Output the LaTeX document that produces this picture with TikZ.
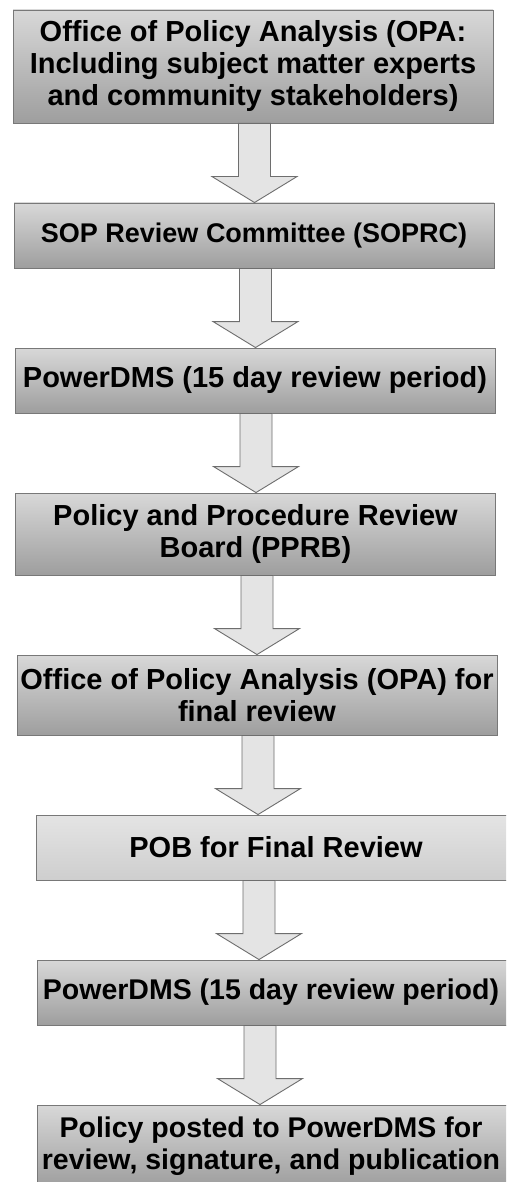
\documentclass[tikz,border=0pt]{standalone}
\usepackage{fontspec}
\setmainfont{Liberation Sans}
\usetikzlibrary{calc}
\definecolor{boxtop}{RGB}{216,216,216}
\definecolor{boxbot}{RGB}{158,158,158}
\definecolor{lighttop}{RGB}{228,228,228}
\definecolor{lightbot}{RGB}{206,206,206}
\definecolor{boxline}{RGB}{120,120,120}
\definecolor{arrfill}{RGB}{228,228,228}
\definecolor{arrline}{RGB}{110,110,110}
\tikzset{
  stepbox/.style={rectangle, draw=boxline, line width=0.9pt, top color=boxtop, bottom color=boxbot,
    minimum width=480pt, inner sep=0pt, align=center, text=black,
    font=\bfseries\fontsize{29}{32}\selectfont},
  lightbox/.style={stepbox, top color=lighttop, bottom color=lightbot},
  edgebox/.style={stepbox, font=\bfseries\fontsize{28.5}{32}\selectfont},
  blockarr/.style={draw=arrline, line width=0.9pt, fill=arrfill, line join=miter}
}
\newcommand\blockarrow[3]{%
  \path[blockarr] let \p1=(#1.south), \p2=(#2.north) in
    (#3pt-16pt,\y1) -- (#3pt+16pt,\y1) -- (#3pt+16pt,\y2+26pt) -- (#3pt+42.5pt,\y2+26pt)
    -- (#3pt,\y2) -- (#3pt-42.5pt,\y2+26pt) -- (#3pt-16pt,\y2+26pt) -- cycle;}
\begin{document}
\begin{tikzpicture}[x=1pt,y=1pt]
\path[use as bounding box, fill=white] (0,0) rectangle (506,-1182);
\clip (0,0) rectangle (506,-1182);
\node[stepbox, minimum height=113pt] (b1) at (253,-66.5)
  {Office of Policy Analysis (OPA:\\Including subject matter experts\\and community stakeholders)};
\node[stepbox, minimum height=65pt, font=\bfseries\fontsize{27}{31}\selectfont] (b2) at (254,-235.5)
  {SOP Review Committee (SOPRC)};
\node[stepbox, minimum height=65pt] (b3) at (255,-380.5)
  {PowerDMS (15 day review period)};
\node[stepbox, minimum height=82pt] (b4) at (255.5,-534)
  {Policy and Procedure Review\\Board (PPRB)};
\node[stepbox, minimum height=80pt] (b5) at (257,-695)
  {Office of Policy Analysis (OPA) for\\final review};
\node[lightbox, minimum height=65pt] (b6) at (276,-847.5)
  {POB for Final Review};
\node[edgebox, minimum height=65pt] (b7) at (277,-992.5)
  {PowerDMS (15 day review period)\hspace*{12pt}};
\node[edgebox, minimum height=82pt] (b8) at (277,-1146)
  {Policy posted to PowerDMS for\hspace*{12pt}\\review, signature, and publication\hspace*{12pt}};
\blockarrow{b1}{b2}{254.5}
\blockarrow{b2}{b3}{255.5}
\blockarrow{b3}{b4}{256}
\blockarrow{b4}{b5}{257}
\blockarrow{b5}{b6}{258}
\blockarrow{b6}{b7}{259}
\blockarrow{b7}{b8}{260}
\end{tikzpicture}
\end{document}
